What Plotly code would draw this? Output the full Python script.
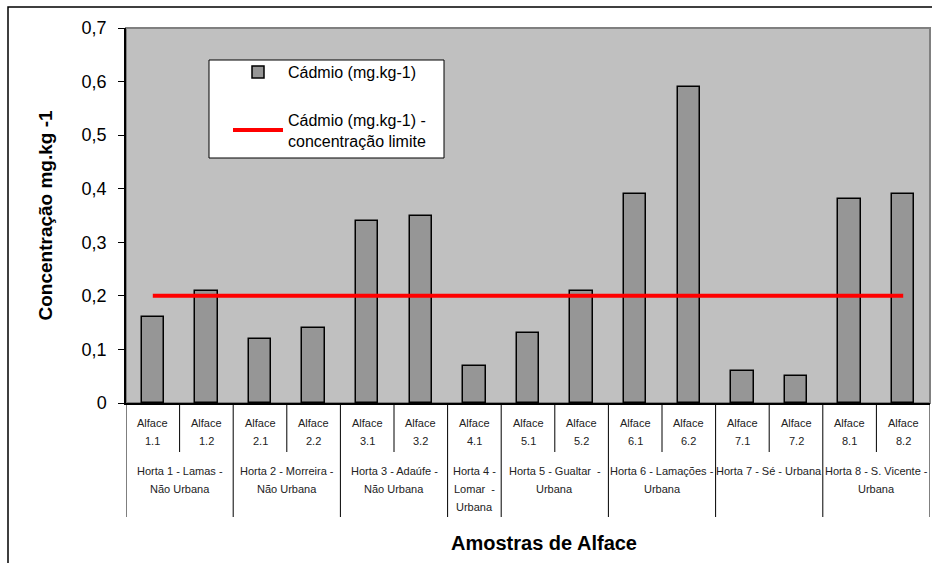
import plotly.graph_objects as go

# Sample labels (second line under "Alface") and cadmium concentrations
samples = ["1.1", "1.2", "2.1", "2.2", "3.1", "3.2", "4.1", "5.1", "5.2",
           "6.1", "6.2", "7.1", "7.2", "8.1", "8.2"]
cadmio = [0.16, 0.21, 0.12, 0.14, 0.34, 0.35, 0.07, 0.13, 0.21,
          0.39, 0.59, 0.06, 0.05, 0.38, 0.39]
limite = [0.2, 0.2, 0.2, 0.2, 0.2, 0.2, 0.2, 0.2, 0.2,
          0.2, 0.2, 0.2, 0.2, 0.2, 0.2]

# Garden groups: label lines and number of samples per garden
hortas = [
    ["Horta 1 - Lamas -", "Não Urbana"],
    ["Horta 2 - Morreira -", "Não Urbana"],
    ["Horta 3 - Adaúfe -", "Não Urbana"],
    ["Horta 4 -", "Lomar  -", "Urbana"],
    ["Horta 5 - Gualtar  -", "Urbana"],
    ["Horta 6 - Lamações -", "Urbana"],
    ["Horta 7 - Sé - Urbana"],
    ["Horta 8 - S. Vicente -", "Urbana"],
]
amostras_por_horta = [2, 2, 2, 1, 2, 2, 2, 2]

y_ticks = [0, 0.1, 0.2, 0.3, 0.4, 0.5, 0.6, 0.7]

W, H = 932, 563
ML, MR, MT, MB = 126, 2, 28, 160
PW, PH = W - ML - MR, H - MT - MB
FONT = "Liberation Sans, Arial, sans-serif"


def px_x(px):
    return (px - ML) / PW


def px_y(py):
    return (H - MB - py) / PH


x = list(range(len(samples)))

fig = go.Figure()
fig.add_trace(go.Bar(
    x=x, y=cadmio, name="Cádmio (mg.kg-1)", width=0.42,
    marker=dict(color="#969696", line=dict(color="black", width=1.5)),
    legendgroup="a",
))
fig.add_trace(go.Scatter(
    x=x, y=limite, mode="lines",
    name="Cádmio (mg.kg-1) -<br>concentração limite",
    line=dict(color="#FF0000", width=4),
    legendgroup="b",
))

shapes = []
# plot area frame (grey top/right edges)
shapes.append(dict(type="rect", xref="paper", yref="paper", x0=0, x1=1, y0=0, y1=1,
                   line=dict(color="#808080", width=2), layer="below"))
# outer chart border
shapes.append(dict(type="rect", xref="paper", yref="paper",
                   x0=px_x(8), x1=px_x(W + 10), y0=px_y(H + 10), y1=px_y(7),
                   line=dict(color="black", width=1.5), fillcolor="rgba(0,0,0,0)"))
# legend box
shapes.append(dict(type="rect", xref="paper", yref="paper",
                   x0=px_x(209), x1=px_x(444), y0=px_y(158), y1=px_y(60),
                   line=dict(color="black", width=1), fillcolor="white", layer="above"))

# category separators below the axis
group_edges = [0]
for n in amostras_por_horta:
    group_edges.append(group_edges[-1] + n)
for i in range(len(samples) + 1):
    deep = i in group_edges
    shapes.append(dict(type="line", xref="x", yref="paper",
                       x0=i - 0.5, x1=i - 0.5, y0=0,
                       y1=px_y(517) if deep else px_y(452),
                       line=dict(color="black", width=1)))

annotations = []
lab_font = dict(family=FONT, size=11, color="#222222")
for i, s in enumerate(samples):
    annotations.append(dict(x=i, y=px_y(423), xref="x", yref="paper", text="Alface",
                            showarrow=False, font=lab_font, yanchor="middle"))
    annotations.append(dict(x=i, y=px_y(441), xref="x", yref="paper", text=s,
                            showarrow=False, font=lab_font, yanchor="middle"))

for g, lines in enumerate(hortas):
    xc = (group_edges[g] + group_edges[g + 1] - 1) / 2
    for k, line in enumerate(lines):
        annotations.append(dict(x=xc, y=px_y(471 + 18 * k), xref="x", yref="paper",
                                text=line, showarrow=False, font=lab_font,
                                yanchor="middle"))

annotations.append(dict(x=px_x(544), y=px_y(543), xref="paper", yref="paper",
                        text="<b>Amostras de Alface</b>", showarrow=False,
                        font=dict(family=FONT, size=20, color="black"),
                        yanchor="middle"))
annotations.append(dict(x=px_x(45), y=0.5, xref="paper", yref="paper",
                        text="<b>Concentração mg.kg -1</b>", showarrow=False,
                        textangle=-90, font=dict(family=FONT, size=19, color="black"),
                        xanchor="center", yanchor="middle"))

fig.update_layout(
    width=W, height=H,
    margin=dict(l=ML, r=MR, t=MT, b=MB, pad=0),
    paper_bgcolor="white", plot_bgcolor="#C0C0C0",
    separators=",.",
    font=dict(family=FONT, color="black"),
    bargap=0,
    shapes=shapes, annotations=annotations,
    showlegend=True,
    legend=dict(x=px_x(228), y=px_y(55), xanchor="left", yanchor="top",
                bgcolor="rgba(0,0,0,0)", borderwidth=0,
                font=dict(family=FONT, size=16, color="black"),
                tracegroupgap=24, itemwidth=50),
    xaxis=dict(range=[-0.5, len(samples) - 0.5], showticklabels=False, ticks="",
               showgrid=False, zeroline=False, showline=True,
               linecolor="black", linewidth=1.5, fixedrange=True),
    yaxis=dict(range=[0, 0.7], tickvals=y_ticks, tickformat=".1~f",
               ticks="outside", ticklen=6, tickcolor="black",
               ticklabelstandoff=8,
               tickfont=dict(family=FONT, size=18, color="black"),
               showgrid=False, zeroline=False, showline=True,
               linecolor="black", linewidth=1.5, fixedrange=True),
)

fig.write_html("out.html")
